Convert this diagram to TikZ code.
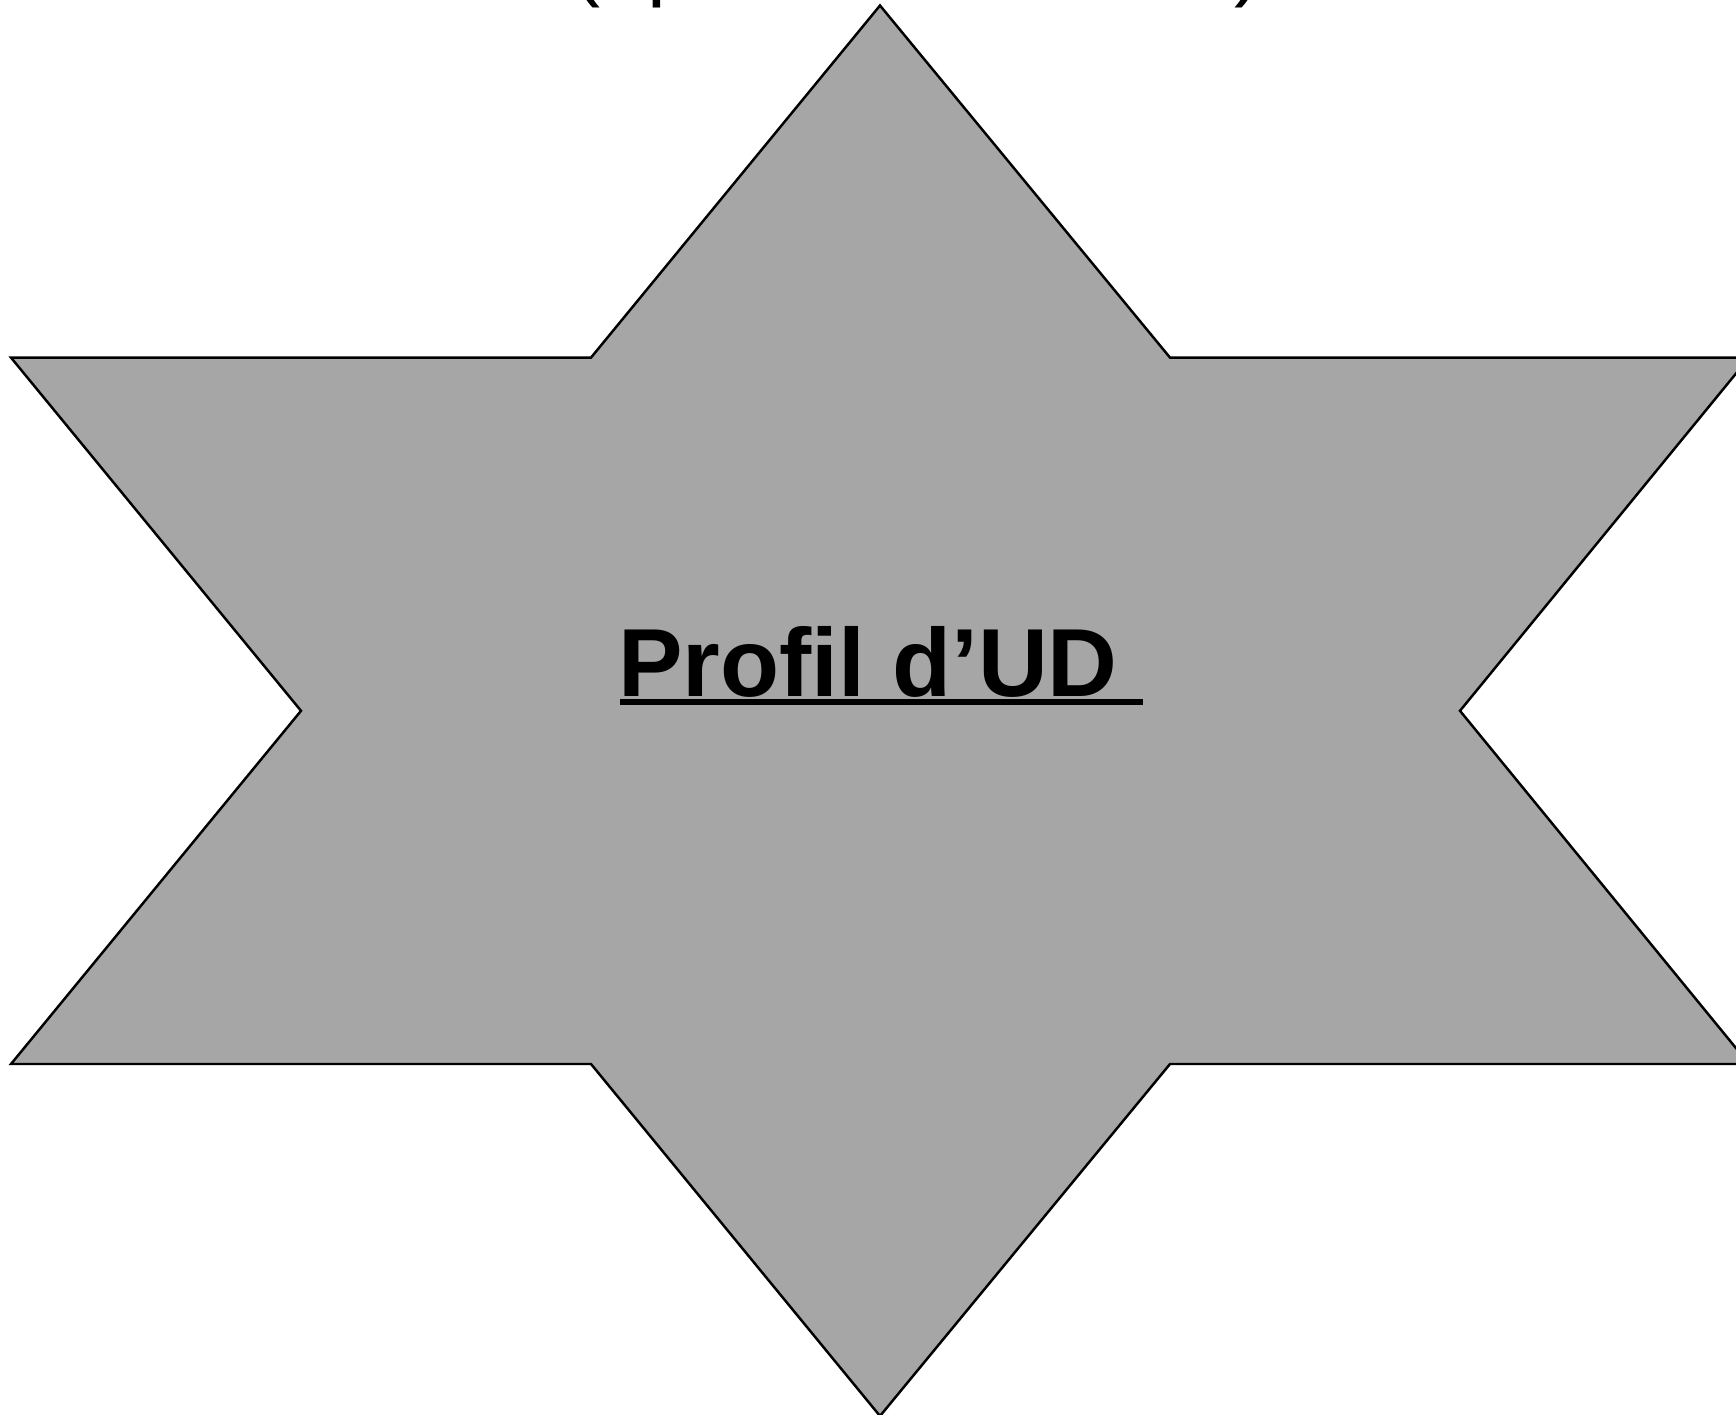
\documentclass[tikz,border=0pt]{standalone}
\usepackage{fontspec}
\setmainfont{Liberation Sans}
\begin{document}
\begin{tikzpicture}[x=0.01cm,y=-0.01cm,
  starshape/.style={draw=black,fill=starfill,line width=0.7pt,line join=miter},
  titletext/.style={font=\fontsize{27.5}{30}\selectfont\bfseries,inner sep=0pt,anchor=base},
  cuttext/.style={font=\fontsize{24}{26}\selectfont,inner sep=0pt,anchor=base west}]
\definecolor{starfill}{HTML}{A6A6A6}
\useasboundingbox (0,0) rectangle (1736,1415);
\begin{scope}
\clip (0,0) rectangle (1736,1415);
\draw[starshape] (880,5.5) -- (1170,357.6) -- (1749,357.6) -- (1460,710.8)
  -- (1749,1064) -- (1170,1064) -- (880,1416) -- (591,1064) -- (11,1064)
  -- (301,710.8) -- (11,357.6) -- (591,357.6) -- cycle;
\node[cuttext] (cutl) at (572,-9) {(};
\node[cuttext] (cutp) at (647,-9) {p};
\node[cuttext] (cutr) at (1234,-9) {)};
\end{scope}
\node[titletext] (title) at (868,696) {Profil d’UD};
\draw[line width=1.6pt] (620,702) -- (1143,702);
\end{tikzpicture}
\end{document}
